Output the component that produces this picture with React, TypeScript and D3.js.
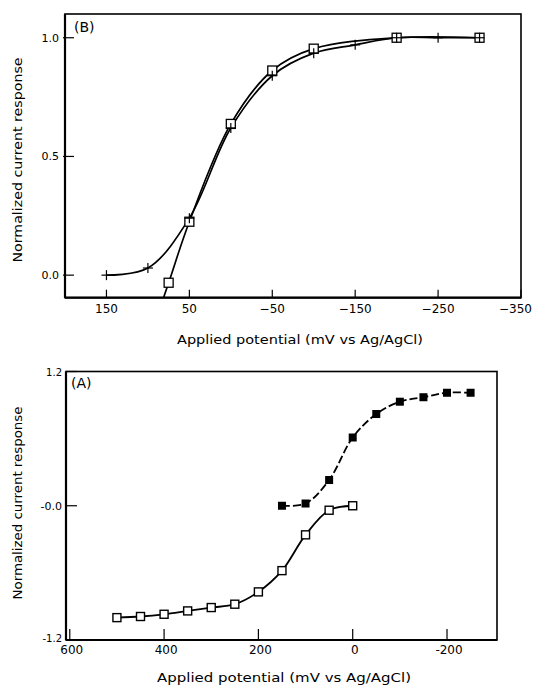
import React from "react";
import * as d3 from "d3";

// panel B data
const potB = [150, 100, 50, 0, -50, -100, -150, -200, -250, -300];
const respBPlus = [0.0, 0.03, 0.24, 0.62, 0.84, 0.935, 0.97, 1.0, 1.0, 1.0];
const potBSquare = [75, 50, 0, -50, -100, -200, -300];
const respBSquare = [-0.032, 0.225, 0.637, 0.862, 0.954, 1.0, 1.0];
const ticksBx = [150, 50, -50, -150, -250, -350];
const tickLabelsBx = ["150", "50", "−50", "−150", "−250", "−350"];
const ticksBy = [1.0, 0.5, 0.0];
const tickLabelsBy = ["1.0", "0.5", "0.0"];

// panel A data
const potAOpen = [500, 450, 400, 350, 300, 250, 200, 150, 100, 50, 0];
const respAOpen = [-1.0, -0.99, -0.97, -0.94, -0.91, -0.88, -0.77, -0.58, -0.26, -0.04, 0.0];
const potAFilled = [150, 100, 50, 0, -50, -100, -150, -200, -250];
const respAFilled = [0.0, 0.02, 0.23, 0.61, 0.82, 0.93, 0.97, 1.01, 1.01];
const ticksAx = [600, 400, 200, 0, -200];
const tickLabelsAx = ["600", "400", "200", "0", "-200"];
const ticksAy = [1.2, 0.0, -1.2];
const tickLabelsAy = ["1.2", "-0.0", "-1.2"];

const xLabel = "Applied potential (mV vs Ag/AgCl)";
const yLabel = "Normalized current response";
const font = "'DejaVu Sans', sans-serif";

type Pt = [number, number];

const App = () => {
  // ---- panel B scales
  const bx = d3.scaleLinear().domain([200, -350]).range([65, 521]);
  const by = d3.scaleLinear().domain([-0.095, 1.1]).range([297.7, 14]);
  // ---- panel A scales
  const ax = d3.scaleLinear().domain([608, -306]).range([66, 497]);
  const ay = d3.scaleLinear().domain([-1.2, 1.2]).range([640, 371.5]);

  const lineB = d3
    .line<Pt>()
    .x((d) => bx(d[0]))
    .y((d) => by(d[1]))
    .curve(d3.curveCatmullRom.alpha(0.5));
  const lineA = d3
    .line<Pt>()
    .x((d) => ax(d[0]))
    .y((d) => ay(d[1]))
    .curve(d3.curveCatmullRom.alpha(0.5));

  const plusPts: Pt[] = potB.map((p, i) => [p, respBPlus[i]]);
  const sqPts: Pt[] = potBSquare.map((p, i) => [p, respBSquare[i]]);
  // the square curve runs on below the frame: continue its first segment
  const tail: Pt = [
    2 * sqPts[0][0] - sqPts[1][0],
    2 * sqPts[0][1] - sqPts[1][1],
  ];
  const sqLine: Pt[] = [tail, ...sqPts];
  const openPts: Pt[] = potAOpen.map((p, i) => [p, respAOpen[i]]);
  const filledPts: Pt[] = potAFilled.map((p, i) => [p, respAFilled[i]]);

  const [bx0, bx1] = bx.range();
  const [by0, by1] = by.range();
  const [ax0, ax1] = ax.range();
  const [ay0, ay1] = ay.range();

  return (
    <svg
      width={534}
      height={686}
      style={{ position: "absolute", left: 0, top: 0, background: "#fff" }}
      fontFamily={font}
    >
      <defs>
        <clipPath id="clipB">
          <rect x={bx0} y={by1} width={bx1 - bx0} height={by0 - by1} />
        </clipPath>
        <clipPath id="clipA">
          <rect x={ax0} y={ay1} width={ax1 - ax0} height={ay0 - ay1} />
        </clipPath>
      </defs>

      {/* ================= panel B ================= */}
      <g>
        <rect
          x={bx0}
          y={by1}
          width={bx1 - bx0}
          height={by0 - by1}
          fill="none"
          stroke="#000"
          strokeWidth={1.6}
        />
        <line x1={bx0} x2={bx0} y1={by1} y2={by0} stroke="#000" strokeWidth={2.2} />
        <line x1={bx0} x2={bx1} y1={by0} y2={by0} stroke="#000" strokeWidth={2.2} />
        {ticksBx.map((t, i) => {
          const last = i === ticksBx.length - 1;
          return (
            <g key={"bx" + i}>
              <line x1={bx(t)} x2={bx(t)} y1={by0} y2={by0 - 8} stroke="#000" strokeWidth={1.2} />
              <text
                x={last ? 532 : bx(t)}
                y={313}
                textAnchor={last ? "end" : "middle"}
                fontSize={12}
              >
                {tickLabelsBx[i]}
              </text>
            </g>
          );
        })}
        {ticksBy.map((t, i) => (
          <g key={"by" + i}>
            <line x1={bx0 - 2} x2={bx0 + 9} y1={by(t)} y2={by(t)} stroke="#000" strokeWidth={1.2} />
            <text x={59} y={by(t) + 4} textAnchor="end" fontSize={11}>
              {tickLabelsBy[i]}
            </text>
          </g>
        ))}
        <text x={74} y={32} fontSize={14}>
          (B)
        </text>
        <text
          transform="translate(22,160) rotate(-90)"
          textAnchor="middle"
          fontSize={13}
          textLength={205}
          lengthAdjust="spacingAndGlyphs"
        >
          {yLabel}
        </text>
        <text
          x={300}
          y={344}
          textAnchor="middle"
          fontSize={13}
          textLength={246}
          lengthAdjust="spacingAndGlyphs"
        >
          {xLabel}
        </text>

        <g clipPath="url(#clipB)">
          <path d={lineB(plusPts) ?? ""} fill="none" stroke="#000" strokeWidth={1.7} />
          <path d={lineB(sqLine) ?? ""} fill="none" stroke="#000" strokeWidth={1.7} />
        </g>
        {sqPts.map((d, i) => (
          <rect
            key={"bs" + i}
            x={bx(d[0]) - 4.5}
            y={by(d[1]) - 4.5}
            width={9}
            height={9}
            fill="#fff"
            stroke="#000"
            strokeWidth={1.3}
          />
        ))}
        {plusPts.map((d, i) => (
          <g key={"bp" + i} stroke="#000" strokeWidth={1.2}>
            <line x1={bx(d[0]) - 5} x2={bx(d[0]) + 5} y1={by(d[1])} y2={by(d[1])} />
            <line x1={bx(d[0])} x2={bx(d[0])} y1={by(d[1]) - 5} y2={by(d[1]) + 5} />
          </g>
        ))}
      </g>

      {/* ================= panel A ================= */}
      <g>
        <rect
          x={ax0}
          y={ay1}
          width={ax1 - ax0}
          height={ay0 - ay1}
          fill="none"
          stroke="#000"
          strokeWidth={1.6}
        />
        <line x1={ax0} x2={ax0} y1={ay1} y2={ay0} stroke="#000" strokeWidth={2.2} />
        <line x1={ax0} x2={ax1} y1={ay0} y2={ay0} stroke="#000" strokeWidth={2.2} />
        {ticksAx.map((t, i) => (
          <g key={"ax" + i}>
            <line x1={ax(t)} x2={ax(t)} y1={ay0} y2={ay0 - 11} stroke="#000" strokeWidth={1.2} />
            <text x={ax(t) + 2} y={654} textAnchor="middle" fontSize={12}>
              {tickLabelsAx[i]}
            </text>
          </g>
        ))}
        {ticksAy.map((t, i) => (
          <g key={"ay" + i}>
            <line x1={ax0} x2={ax0 + 11} y1={ay(t)} y2={ay(t)} stroke="#000" strokeWidth={1.2} />
            <text
              x={62}
              y={ay(t) + (i === 2 ? 2 : 4)}
              textAnchor="end"
              fontSize={i === 1 ? 11 : 10}
            >
              {tickLabelsAy[i]}
            </text>
          </g>
        ))}
        <text x={71} y={388} fontSize={14}>
          (A)
        </text>
        <text
          transform="translate(22,503) rotate(-90)"
          textAnchor="middle"
          fontSize={13}
          textLength={193}
          lengthAdjust="spacingAndGlyphs"
        >
          {yLabel}
        </text>
        <text
          x={284}
          y={682}
          textAnchor="middle"
          fontSize={13}
          textLength={254}
          lengthAdjust="spacingAndGlyphs"
        >
          {xLabel}
        </text>

        <g clipPath="url(#clipA)">
          <path d={lineA(openPts) ?? ""} fill="none" stroke="#000" strokeWidth={1.8} />
          <path
            d={lineA(filledPts) ?? ""}
            fill="none"
            stroke="#000"
            strokeWidth={1.8}
            strokeDasharray="8,3"
          />
        </g>
        {openPts.map((d, i) => (
          <rect
            key={"ao" + i}
            x={ax(d[0]) - 4}
            y={ay(d[1]) - 4}
            width={8}
            height={8}
            fill="#fff"
            stroke="#000"
            strokeWidth={1.4}
          />
        ))}
        {filledPts.map((d, i) => (
          <rect
            key={"af" + i}
            x={ax(d[0]) - 4}
            y={ay(d[1]) - 4}
            width={8}
            height={8}
            fill="#000"
          />
        ))}
      </g>
    </svg>
  );
};

export default App;
